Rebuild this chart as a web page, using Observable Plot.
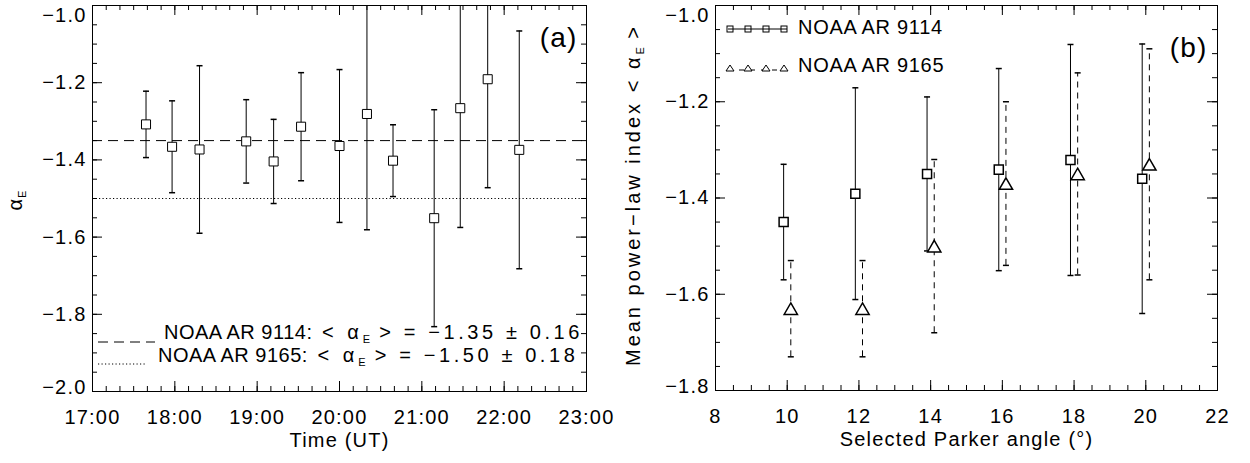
<!DOCTYPE html>
<html><head><meta charset="utf-8">
<script src="https://cdn.jsdelivr.net/npm/d3@7"></script>
<script src="https://cdn.jsdelivr.net/npm/@observablehq/plot@0.6"></script>
<style>
body{margin:0;background:#fff;}
#wrap{display:flex;width:1250px;height:463px;}
svg{font-family:"Liberation Sans",Arial,sans-serif;}
svg text{letter-spacing:1.2px;}
</style></head><body><div id="wrap"></div>
<script>
// ---------- Panel (a): alpha_E versus time ----------
const timesA = ["17:39","17:58","18:18","18:52","19:12","19:32","20:00","20:20","20:39","21:09","21:28","21:48","22:11"];
const alphaA = [-1.308,-1.366,-1.373,-1.352,-1.404,-1.314,-1.364,-1.281,-1.402,-1.551,-1.266,-1.191,-1.374];
const errA   = [0.086,0.119,0.217,0.108,0.109,0.140,0.198,0.300,0.093,0.281,0.309,0.281,0.308];
const meanRegions = ["NOAA AR 9114","NOAA AR 9165"];
const meanValues  = [-1.35,-1.50];
const meanErrors  = [0.16,0.18];
const timeTicks = [17,18,19,20,21,22,23];
const alphaTicksA = [-2.0,-1.8,-1.6,-1.4,-1.2,-1.0];

// ---------- Panel (b): mean index versus Parker angle ----------
const parkerAngles = [10,12,14,16,18,20];
const mean9114 = [-1.450,-1.391,-1.350,-1.341,-1.321,-1.360];
const err9114  = [0.120,0.220,0.160,0.210,0.240,0.280];
const mean9165 = [-1.630,-1.630,-1.500,-1.370,-1.350,-1.330];
const err9165  = [0.100,0.100,0.180,0.170,0.210,0.240];
const angleTicks = [8,10,12,14,16,18,20,22];
const alphaTicksB = [-1.8,-1.6,-1.4,-1.2,-1.0];

// ---------- helpers ----------
const FONT = 20;
const fmtY = d => (d < 0 ? "\u2212" : "") + Math.abs(d).toFixed(1);
const fmtT = d => d + ":00";
const toHours = s => { const [h, m] = s.split(":").map(Number); return h + m / 60; };
const capSym = {draw(ctx, size){ const r = Math.sqrt(size/Math.PI); ctx.moveTo(-r,0); ctx.lineTo(r,0); }};
const triSym = {draw(ctx, size){ const r = Math.sqrt(size/Math.PI); const w = 1.33*r, h = 2*w*0.866;
  ctx.moveTo(0,-h/2); ctx.lineTo(w,h/2); ctx.lineTo(-w,h/2); ctx.closePath(); }};

function range(a, b, step){ const out=[]; const n=Math.round((b-a)/step); for(let i=0;i<=n;i++) out.push(a+i*step); return out; }

function frameTicks(xMaj, xMin, yMaj, yMin, pw, ph){
  const s = {stroke:"black", strokeWidth:1};
  return [
    Plot.tickX(xMaj, {x:d=>d, insetTop: ph-10, ...s}),
    Plot.tickX(xMaj, {x:d=>d, insetBottom: ph-10, ...s}),
    Plot.tickX(xMin, {x:d=>d, insetTop: ph-5, ...s}),
    Plot.tickX(xMin, {x:d=>d, insetBottom: ph-5, ...s}),
    Plot.tickY(yMaj, {y:d=>d, insetRight: pw-10, ...s}),
    Plot.tickY(yMaj, {y:d=>d, insetLeft: pw-10, ...s}),
    Plot.tickY(yMin, {y:d=>d, insetRight: pw-5, ...s}),
    Plot.tickY(yMin, {y:d=>d, insetLeft: pw-5, ...s}),
    Plot.frame({stroke:"black", strokeWidth:1})
  ];
}
function tickLabels(xMaj, xFmt, yMaj){
  const n = yMaj.length;
  const common = {frameAnchor:"left", textAnchor:"end", dx:-6, fontSize:FONT, fill:"black"};
  return [
    Plot.text(xMaj, {x:d=>d, text:xFmt, frameAnchor:"bottom", lineAnchor:"top", dy:18, fontSize:FONT, fill:"black"}),
    Plot.text(yMaj.slice(1, n-1), {y:d=>d, text:fmtY, ...common}),
    Plot.text(yMaj.slice(0,1), {y:d=>d, text:fmtY, ...common, dy:-4}),
    Plot.text(yMaj.slice(n-1), {y:d=>d, text:fmtY, ...common, dy:10})
  ];
}
// rich text: parts = [{t, sub, ls}]
function richParts(sel, x, y, parts, {anchor="start", size=FONT, rotate=0} = {}){
  const t = sel.append("text").attr("x", x).attr("y", y).attr("text-anchor", anchor)
    .attr("dominant-baseline", "middle").attr("font-size", size).attr("fill", "black")
    .style("letter-spacing", "0px");
  if (rotate) t.attr("transform", `rotate(${rotate},${x},${y})`);
  let shifted = false;
  for (const p of parts) {
    const sp = t.append("tspan").text(p.t).style("letter-spacing", (p.ls ?? 1) + "px");
    if (p.sub) { sp.attr("font-size", size*0.55).attr("dy", size*0.28); shifted = true; }
    else if (shifted) { sp.attr("dy", -size*0.28); shifted = false; }
  }
  return t;
}

const wrap = document.getElementById("wrap");
const H = 463;

// ---------- Panel (a) ----------
{
  const W = 615, m = {top:5, right:29, bottom:72, left:92};
  const pw = W - m.left - m.right, ph = H - m.top - m.bottom;
  const data = timesA.map((t,i) => ({x: toHours(t), y: alphaA[i], e: errA[i]}));
  const means = meanValues.map((v,i) => ({v, region: meanRegions[i], err: meanErrors[i]}));
  const svg = Plot.plot({
    width: W, height: H, marginTop: m.top, marginRight: m.right, marginBottom: m.bottom, marginLeft: m.left,
    style: {fontFamily: '"Liberation Sans", Arial, sans-serif', background: "white"},
    x: {domain: [17, 23], axis: null},
    y: {domain: [-2.0, -1.0], axis: null},
    marks: [
      Plot.ruleY(means.slice(0,1), {y: "v", stroke: "black", strokeDasharray: "10,6"}),
      Plot.ruleY(means.slice(1,2), {y: "v", stroke: "black", strokeDasharray: "1.2,2.3"}),
      Plot.ruleX(data, {x: "x", y1: d => d.y - d.e, y2: d => d.y + d.e, stroke: "black", clip: true}),
      Plot.dot(data, {x: "x", y: d => d.y + d.e, symbol: capSym, r: 3, stroke: "black", clip: true}),
      Plot.dot(data, {x: "x", y: d => d.y - d.e, symbol: capSym, r: 3, stroke: "black", clip: true}),
      Plot.dot(data, {x: "x", y: "y", symbol: "square", r: 5.1, fill: "white", stroke: "black", strokeWidth: 1}),
      ...frameTicks(range(17,23,1), range(17,23,1/6), alphaTicksA, range(-2.0,-1.0,0.05), pw, ph),
      ...tickLabels(timeTicks, fmtT, alphaTicksA),
      Plot.text(["Time (UT)"], {frameAnchor: "bottom", dy: 55, fontSize: FONT, fill: "black"}),
      Plot.text(["(a)"], {frameAnchor: "top-right", dx: -9, dy: 33, fontSize: 28, fill: "black", lineAnchor: "middle", textAnchor: "end"})
    ]
  });
  wrap.appendChild(svg);
  const g = d3.select(svg).append("g");
  richParts(g, 17, 200, [{t:"\u03b1"}, {t:"E", sub:true}], {anchor: "middle", rotate: -90});
  // legend of the mean values
  means.forEach((d, i) => {
    richParts(g, i === 0 ? 164 : 158, i === 0 ? 334 : 357, [
      {t: `${d.region}:`, ls: 0.5},
      {t: " < \u03b1", ls: 4}, {t: "E", sub: true, ls: 0},
      {t: ` > = \u2212${Math.abs(d.v).toFixed(2)} \u00b1 ${d.err.toFixed(2)}`, ls: 3.6}
    ]);
  });
  g.append("line").attr("x1", 98).attr("x2", 155).attr("y1", 342).attr("y2", 342)
    .attr("stroke", "black").attr("stroke-dasharray", "10,6");
  g.append("line").attr("x1", 98).attr("x2", 146).attr("y1", 364).attr("y2", 364)
    .attr("stroke", "black").attr("stroke-dasharray", "1.2,2.3");
}

// ---------- Panel (b) ----------
{
  const W = 635, m = {top:5, right:33, bottom:73, left:100};
  const pw = W - m.left - m.right, ph = H - m.top - m.bottom;
  const d1 = parkerAngles.map((a,i) => ({x: a - 0.1, y: mean9114[i], e: err9114[i]}));
  const d2 = parkerAngles.map((a,i) => ({x: a + 0.1, y: mean9165[i], e: err9165[i]}));
  const svg = Plot.plot({
    width: W, height: H, marginTop: m.top, marginRight: m.right, marginBottom: m.bottom, marginLeft: m.left,
    style: {fontFamily: '"Liberation Sans", Arial, sans-serif', background: "white"},
    x: {domain: [8, 22], axis: null},
    y: {domain: [-1.8, -1.0], axis: null},
    marks: [
      Plot.ruleX(d1, {x: "x", y1: d => d.y - d.e, y2: d => d.y + d.e, stroke: "black"}),
      Plot.dot(d1, {x: "x", y: d => d.y + d.e, symbol: capSym, r: 3, stroke: "black"}),
      Plot.dot(d1, {x: "x", y: d => d.y - d.e, symbol: capSym, r: 3, stroke: "black"}),
      Plot.ruleX(d2, {x: "x", y1: d => d.y - d.e, y2: d => d.y + d.e, stroke: "black", strokeDasharray: "6,5"}),
      Plot.dot(d2, {x: "x", y: d => d.y + d.e, symbol: capSym, r: 3, stroke: "black"}),
      Plot.dot(d2, {x: "x", y: d => d.y - d.e, symbol: capSym, r: 3, stroke: "black"}),
      Plot.dot(d1, {x: "x", y: "y", symbol: "square", r: 5.1, fill: "white", stroke: "black"}),
      Plot.dot(d2, {x: "x", y: "y", symbol: triSym, r: 5, fill: "white", stroke: "black"}),
      ...frameTicks(angleTicks, range(8,22,0.5), alphaTicksB, range(-1.8,-1.0,0.05), pw, ph),
      ...tickLabels(angleTicks, d => String(d), alphaTicksB),
      Plot.text(["Selected Parker angle (\u00b0)"], {frameAnchor: "bottom", dy: 55, fontSize: FONT, fill: "black"}),
      Plot.text(["(b)"], {frameAnchor: "top-right", dx: -10, dy: 43, fontSize: 28, fill: "black", lineAnchor: "middle", textAnchor: "end"})
    ]
  });
  wrap.appendChild(svg);
  const g = d3.select(svg).append("g");
  richParts(g, 20, 195, [{t:"Mean power\u2212law index < \u03b1", ls: 3}, {t:"E", sub:true, ls:0}, {t:" >", ls: 3}], {anchor: "middle", rotate: -90});
  // legend
  const lx = [115, 133, 151, 169];
  g.append("line").attr("x1", 113).attr("x2", 172).attr("y1", 29).attr("y2", 29).attr("stroke", "black");
  g.selectAll(".sq").data(lx).join("rect").attr("x", d => d - 3).attr("y", 26).attr("width", 6).attr("height", 6)
    .attr("fill", "none").attr("stroke", "black");
  richParts(g, 183, 29, [{t: meanRegions[0], ls: 0.7}]);
  g.append("line").attr("x1", 113).attr("x2", 172).attr("y1", 70).attr("y2", 70).attr("stroke", "black").attr("stroke-dasharray", "5,6");
  g.selectAll(".tr").data(lx).join("path").attr("d", d => `M${d},${65}L${d+4},${71}L${d-4},${71}Z`)
    .attr("fill", "white").attr("stroke", "black");
  richParts(g, 183, 67, [{t: meanRegions[1], ls: 0.7}]);
}
</script></body></html>
